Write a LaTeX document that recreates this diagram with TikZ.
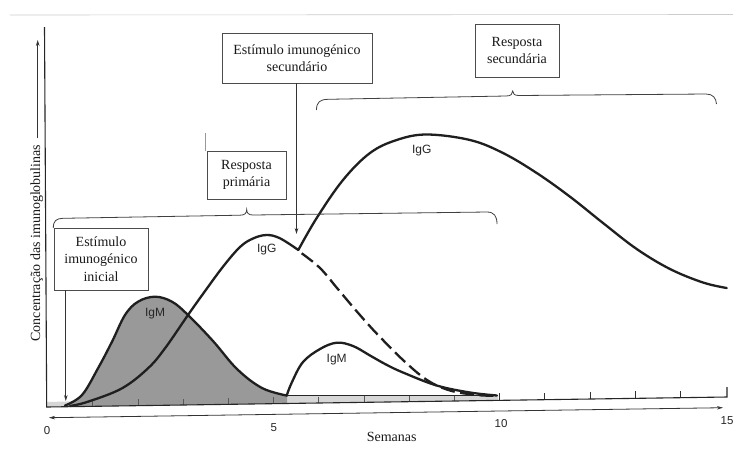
\documentclass[tikz,border=0pt]{standalone}
\usepackage{fontspec}
\setmainfont{Liberation Serif}
\newfontfamily\sansf{Liberation Sans}
\usetikzlibrary{arrows.meta}
\begin{document}
\begin{tikzpicture}[x=1pt,y=-1pt,
  lbl/.style={font=\fontsize{14}{17.5}\selectfont, text=black!90, align=center},
  boxn/.style={lbl, draw=black!70, line width=0.7pt, inner sep=0pt},
  igcurve/.style={line width=2.3pt, black!88, line join=round, line cap=round},
  thinar/.style={line width=0.8pt, black!80, -{Stealth[length=6pt,width=3.6pt]}},
  iglbl/.style={font=\sansf\fontsize{12}{14}\selectfont, text=black!85},
  numlbl/.style={font=\sansf\fontsize{11.5}{13}\selectfont, text=black!85},
  bracel/.style={line width=0.8pt, black!75},
  axisl/.style={line width=1.1pt, black!85}
]
\useasboundingbox[fill=white] (0,0) rectangle (733,459);

% faint scan lines
\draw[black!20, line width=0.6pt] (10,15) -- (733,14.5);
\draw[black!40, line width=0.5pt] (205.5,133) -- (205.5,151);

% low band along axis (weeks 0-10)
\fill[black!16] (47,407) -- (498,400.4) -- (498,395.5) -- (287,395.8) -- (47,402) -- cycle;

% shaded primary IgM area
\fill[black!40] plot[smooth, tension=0.6] coordinates {(65,405.5) (82,395) (98,368.3) (112,341.7) (125,315) (138,301.7) (155,296.7) (172,301.7) (188,315) (213,341) (237,369) (262,388) (287,395.6)} -- (287,403.5) -- (65,406.7) -- cycle;

% band dividers / ticks
\foreach \k in {1,...,9} {
  \pgfmathsetmacro\xx{47.5+45.2*\k}
  \pgfmathsetmacro\yb{407-(\xx-46.7)*0.0147}
  \draw[black!65, line width=0.6pt] (\xx,\yb) -- (\xx,\yb-6.5);
}
\foreach \k in {10,...,14} {
  \pgfmathsetmacro\xx{47.5+45.2*\k}
  \pgfmathsetmacro\yb{407-(\xx-46.7)*0.0147}
  \draw[black!80, line width=0.8pt] (\xx,\yb) -- (\xx,\yb-7);
}

% floor line of the curves
\draw[line width=1.6pt, black!85] (287,395.6) -- (498,395.6);

% primary IgM
\draw[igcurve] plot[smooth, tension=0.6] coordinates {(65,405.5) (82,395) (98,368.3) (112,341.7) (125,315) (138,301.7) (155,296.7) (172,301.7) (188,315) (213,341) (237,369) (262,388) (287,395.6)};
% primary IgG
\draw[igcurve] plot[smooth, tension=0.6] coordinates {(70,406) (88,401.7) (122,388.3) (148,368.3) (165,348.3) (188,315) (204,292.5) (223,266.7) (240,247) (253,238.5) (266.7,235) (280,238.3) (298.3,250)};
% secondary IgG
\draw[igcurve] plot[smooth, tension=0.6] coordinates {(298.3,250) (316.7,218) (343,180) (370,153) (396.7,140) (426.7,134.5) (470,140) (503,153) (536.7,173) (570,196.7) (603,223) (636.7,249) (670,269) (703,282.5) (726.7,288)};
% dashed continuation of primary IgG
\draw[igcurve, line cap=butt, dash pattern=on 14pt off 5.5pt] plot[smooth, tension=0.6] coordinates {(301.7,253.3) (320,268) (337,288) (353,307) (367,323) (380,337) (403,360) (427,380) (450,390.5) (477,395) (497,395.8)};
% secondary IgM
\draw[igcurve] plot[smooth, tension=0.6] coordinates {(286.7,395.5) (292,382) (303,362) (320,349) (336.7,342.7) (353,346) (370,355.5) (386,364.5) (403,372.5) (436.7,385.5) (470,392.5) (497,395.5)};

% axes
\draw[axisl] (44.5,27) -- (46.7,407) -- (727,397) -- (727,387);
\draw[line width=0.8pt, black!80, {Stealth[length=6pt,width=3.5pt]}-{Stealth[length=6pt,width=3.5pt]}] (49,417.7) -- (723,407.7);

% curve labels
\node[iglbl] (lgm1) at (155,314) {IgM};
\node[iglbl] (lgg1) at (266.7,249.3) {IgG};
\node[iglbl] (lgg2) at (421.7,150.7) {IgG};
\node[iglbl] (lgm2) at (336.7,359.3) {IgM};

% axis numbers and titles
\node[numlbl] (n0) at (47,430.5) {0};
\node[numlbl] (n5) at (273.7,427.5) {5};
\node[numlbl] (n10) at (501,424) {10};
\node[numlbl] (n15) at (727,421) {15};
\node[lbl, anchor=base] (xlab) at (391.7,441) {Semanas};
\node[lbl, rotate=90] (ylab) at (36.8,243) {Concentração das imunoglobulinas};
\coordinate (ytop) at (37.7,40);
\draw[thinar, shorten <=3pt] (ylab.east -| ytop) -- (ytop);

% boxes
\node[boxn, minimum width=150pt, minimum height=50pt] (bsec) at (297,58) {Estímulo imunogénico\\secundário};
\node[boxn, minimum width=84pt, minimum height=53pt] (bresp2) at (517,50.5) {Resposta\\secundária};
\node[boxn, minimum width=79pt, minimum height=48pt] (bresp1) at (246.5,175) {Resposta\\primária};
\node[boxn, minimum width=94pt, minimum height=62pt] (bini) at (101,259) {Estímulo\\imunogénico\\inicial};

% stimulus arrows
\coordinate (tsec) at (296.5,234);
\draw[thinar] (bsec.south -| tsec) -- (tsec);
\coordinate (tini) at (65.8,401);
\draw[thinar] (bini.south -| tini) -- (tini);

% braces
\draw[bracel] (316.5,110) .. controls (316.5,102) and (320,99.5) .. (328,99.3) -- (506,96) .. controls (511,96) and (512.7,94) .. (512.7,91) .. controls (512.7,94) and (514.5,95.5) .. (519,95.5) -- (706,94) .. controls (713,94) and (716,98) .. (716.5,104);
\draw[bracel] (53.3,228) .. controls (53.3,221) and (56,218.5) .. (63,218.3) -- (240,215.2) .. controls (245,215.2) and (246.7,213) .. (246.7,209.5) .. controls (246.7,213) and (248.5,215) .. (253,215) -- (487,212) .. controls (494,212) and (497,216) .. (497,224);
\end{tikzpicture}
\end{document}
